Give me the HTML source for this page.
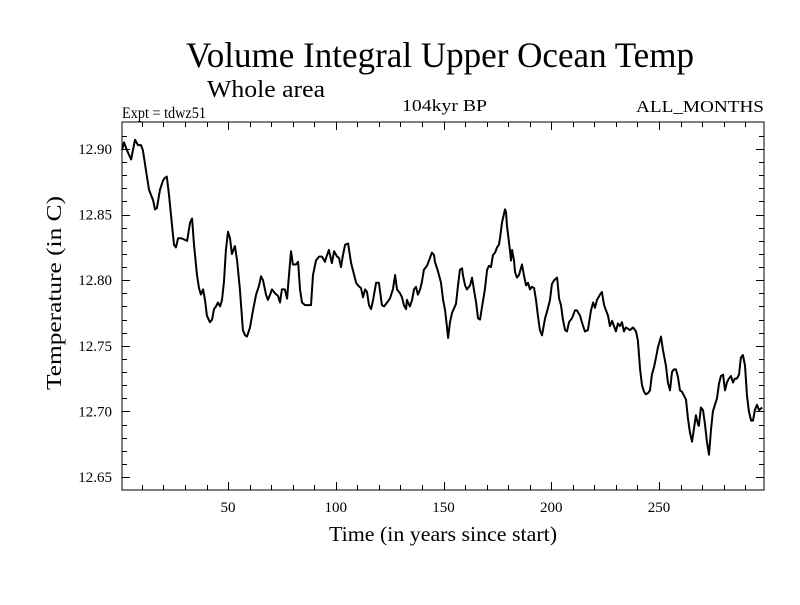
<!DOCTYPE html>
<html><head><meta charset="utf-8"><style>
html,body{margin:0;padding:0;background:#fff;}
svg text{font-family:"Liberation Serif",serif;fill:#000;}
</style></head><body>
<svg id="chart" width="800" height="600" xmlns="http://www.w3.org/2000/svg">
<text x="186" y="67" font-size="36" textLength="508" lengthAdjust="spacingAndGlyphs">Volume Integral Upper Ocean Temp</text>
<text x="207" y="97" font-size="24" textLength="118" lengthAdjust="spacingAndGlyphs">Whole area</text>
<text x="122" y="118" font-size="16" textLength="84" lengthAdjust="spacingAndGlyphs">Expt = tdwz51</text>
<text x="402" y="111" font-size="17" textLength="85" lengthAdjust="spacingAndGlyphs">104kyr BP</text>
<text x="636" y="112" font-size="17" textLength="128" lengthAdjust="spacingAndGlyphs">ALL_MONTHS</text>
<text x="329" y="541" font-size="21" textLength="228" lengthAdjust="spacingAndGlyphs">Time (in years since start)</text>
<text x="0" y="0" font-size="21" textLength="194" lengthAdjust="spacingAndGlyphs" transform="translate(61 390) rotate(-90)">Temperature (in C)</text>
<rect x="122" y="122" width="642" height="368" fill="none" stroke="#000" stroke-width="1"/>
<g id="axes"></g>
<g id="series"></g>
</svg>
<script>
const years=[0.8,1.7,3.1,5.0,6.8,8.2,9.6,10.5,11.9,13.3,15.2,16.1,17.0,18.4,19.8,20.7,21.6,22.6,24.0,24.9,25.8,26.8,28.2,29.6,31.0,32.4,33.3,34.2,35.6,36.5,37.4,38.4,39.3,40.2,41.6,42.6,43.5,44.4,45.3,46.3,47.2,48.1,49.0,50.0,50.9,51.8,53.2,54.2,55.5,56.9,57.9,58.8,60.2,61.6,63.0,64.4,65.3,66.2,67.6,68.5,69.5,70.4,71.8,73.2,74.1,75.0,76.4,77.4,78.3,79.2,80.1,81.5,82.5,83.4,84.3,85.7,87.6,88.5,89.4,90.8,92.2,93.6,95.0,95.5,96.8,98.2,99.2,100.6,101.5,102.4,103.3,104.3,105.7,107.1,107.9,109.4,110.3,111.7,112.6,113.6,114.5,115.4,116.4,117.3,118.7,120.0,121.4,122.4,123.8,125.1,126.5,127.5,128.4,129.8,130.7,131.6,132.6,133.0,134.4,135.4,136.3,137.2,138.1,139.1,140.0,140.9,142.3,143.7,144.6,145.6,146.0,147.0,147.9,148.8,149.8,150.7,151.6,152.1,153.0,153.9,155.8,156.7,157.6,158.6,159.0,160.0,160.9,162.3,163.2,164.1,165.1,166.0,166.9,167.9,169.2,170.2,171.1,172.0,172.9,173.9,174.8,175.7,176.2,177.1,178.5,179.0,179.4,180.8,181.3,181.8,182.7,183.2,184.1,185.0,186.4,187.3,188.3,189.2,190.1,191.0,192.0,192.9,193.8,194.7,195.7,197.1,198.0,199.4,200.3,201.3,202.7,203.6,204.5,205.4,206.4,207.3,208.2,209.6,211.0,211.9,213.3,214.2,215.6,217.0,218.4,219.4,220.3,221.2,222.6,223.5,224.5,225.4,226.3,227.2,228.2,229.1,230.0,230.9,231.9,232.8,233.7,234.6,236.5,237.9,239.3,240.2,241.2,242.1,243.0,243.9,244.9,245.8,246.7,247.7,248.6,249.5,250.9,251.8,253.2,254.1,255.1,256.0,256.9,257.8,258.8,259.7,260.6,261.6,262.5,263.4,264.3,265.3,266.2,267.1,268.1,268.5,269.4,270.4,271.3,272.2,273.2,274.1,275.0,275.9,276.9,277.8,278.7,279.7,280.6,281.5,282.4,283.4,284.3,285.2,286.1,287.1,288.0,288.9,289.9,290.8,291.7,292.7,293.6,294.5,295.4,296.4,297.8];
const temps=[12.899,12.905,12.899,12.892,12.907,12.903,12.903,12.899,12.884,12.869,12.861,12.854,12.855,12.869,12.876,12.878,12.879,12.865,12.842,12.827,12.825,12.832,12.832,12.831,12.830,12.844,12.847,12.827,12.804,12.794,12.789,12.793,12.785,12.773,12.768,12.770,12.778,12.780,12.783,12.780,12.785,12.799,12.823,12.837,12.832,12.820,12.826,12.815,12.793,12.762,12.758,12.757,12.764,12.777,12.789,12.796,12.803,12.800,12.789,12.785,12.789,12.793,12.790,12.788,12.783,12.793,12.793,12.786,12.804,12.822,12.812,12.812,12.814,12.793,12.783,12.781,12.781,12.781,12.804,12.815,12.818,12.818,12.814,12.817,12.823,12.813,12.822,12.818,12.817,12.810,12.819,12.827,12.828,12.813,12.808,12.798,12.796,12.794,12.787,12.793,12.791,12.781,12.778,12.785,12.798,12.798,12.781,12.780,12.783,12.786,12.793,12.804,12.793,12.790,12.787,12.781,12.778,12.785,12.780,12.785,12.793,12.795,12.789,12.793,12.799,12.808,12.811,12.817,12.821,12.819,12.814,12.809,12.804,12.798,12.785,12.777,12.764,12.756,12.768,12.775,12.782,12.796,12.808,12.809,12.804,12.796,12.793,12.796,12.802,12.793,12.783,12.771,12.770,12.780,12.793,12.808,12.811,12.810,12.819,12.821,12.825,12.827,12.832,12.844,12.854,12.852,12.842,12.823,12.815,12.823,12.815,12.806,12.802,12.804,12.812,12.804,12.796,12.798,12.793,12.795,12.794,12.785,12.773,12.762,12.758,12.771,12.776,12.785,12.797,12.800,12.802,12.786,12.781,12.770,12.762,12.761,12.768,12.771,12.777,12.777,12.773,12.768,12.761,12.762,12.777,12.783,12.779,12.785,12.789,12.791,12.781,12.777,12.773,12.765,12.769,12.765,12.761,12.767,12.765,12.768,12.761,12.764,12.762,12.764,12.761,12.754,12.732,12.720,12.715,12.713,12.714,12.716,12.728,12.734,12.741,12.749,12.757,12.747,12.735,12.722,12.716,12.730,12.732,12.732,12.726,12.716,12.715,12.712,12.709,12.695,12.684,12.677,12.687,12.697,12.690,12.689,12.703,12.701,12.690,12.677,12.667,12.686,12.700,12.705,12.710,12.721,12.727,12.728,12.716,12.722,12.725,12.727,12.722,12.725,12.725,12.728,12.741,12.743,12.735,12.712,12.700,12.693,12.693,12.701,12.705,12.701,12.703];
const xTicks=[50,100,150,200,250];
const yTicks=[12.65,12.70,12.75,12.80,12.85,12.90];

const NS='http://www.w3.org/2000/svg';
const L=122,R=764,T=122,B=490;
function xs(v){return 120.3+2.155*v;}
function ys(v){return 149+(12.9-v)*1312;}
const axes=document.getElementById('axes');
function line(x1,y1,x2,y2,name){
  const l=document.createElementNS(NS,'line');
  l.setAttribute('x1',x1);l.setAttribute('y1',y1);l.setAttribute('x2',x2);l.setAttribute('y2',y2);
  l.setAttribute('stroke','#000');l.setAttribute('stroke-width','1');
  
  
  axes.appendChild(l);
}
for(let v=10;v<=290;v+=10){
  const x=Math.round(xs(v))+0.5, major=(v%50===0), len=major?8:5;
  line(x,B,x,B-len,'x-tick');
  line(x,T,x,T+len,'x-tick-top');
}
xTicks.forEach(v=>{
  const t=document.createElementNS(NS,'text');
  t.setAttribute('x',xs(v));t.setAttribute('y',B+22);t.setAttribute('font-size','15');t.setAttribute('text-anchor','middle');
  t.textContent=v;
  
  
  axes.appendChild(t);
});
for(let i=0;i<=27;i++){
  const v=12.64+i*0.01, y=Math.round(ys(v))+0.5;
  if(y<T||y>B)continue;
  const major=(i%5===1), len=major?8:5;
  line(L,y,L+len,y,'y-tick');
  line(R,y,R-len,y,'y-tick-right');
}
yTicks.forEach(v=>{
  const t=document.createElementNS(NS,'text');
  t.setAttribute('x',112);t.setAttribute('y',ys(v)+5);t.setAttribute('font-size','15');t.setAttribute('text-anchor','end');
  t.textContent=v.toFixed(2);
  
  
  axes.appendChild(t);
});
const p=document.createElementNS(NS,'polyline');
p.setAttribute('points',years.map((y,i)=>xs(y).toFixed(1)+','+ys(temps[i]).toFixed(1)).join(' '));
p.setAttribute('fill','none');p.setAttribute('stroke','#000');p.setAttribute('stroke-width','2');p.setAttribute('stroke-linejoin','round');


document.getElementById('series').appendChild(p);
</script>
</body></html>
